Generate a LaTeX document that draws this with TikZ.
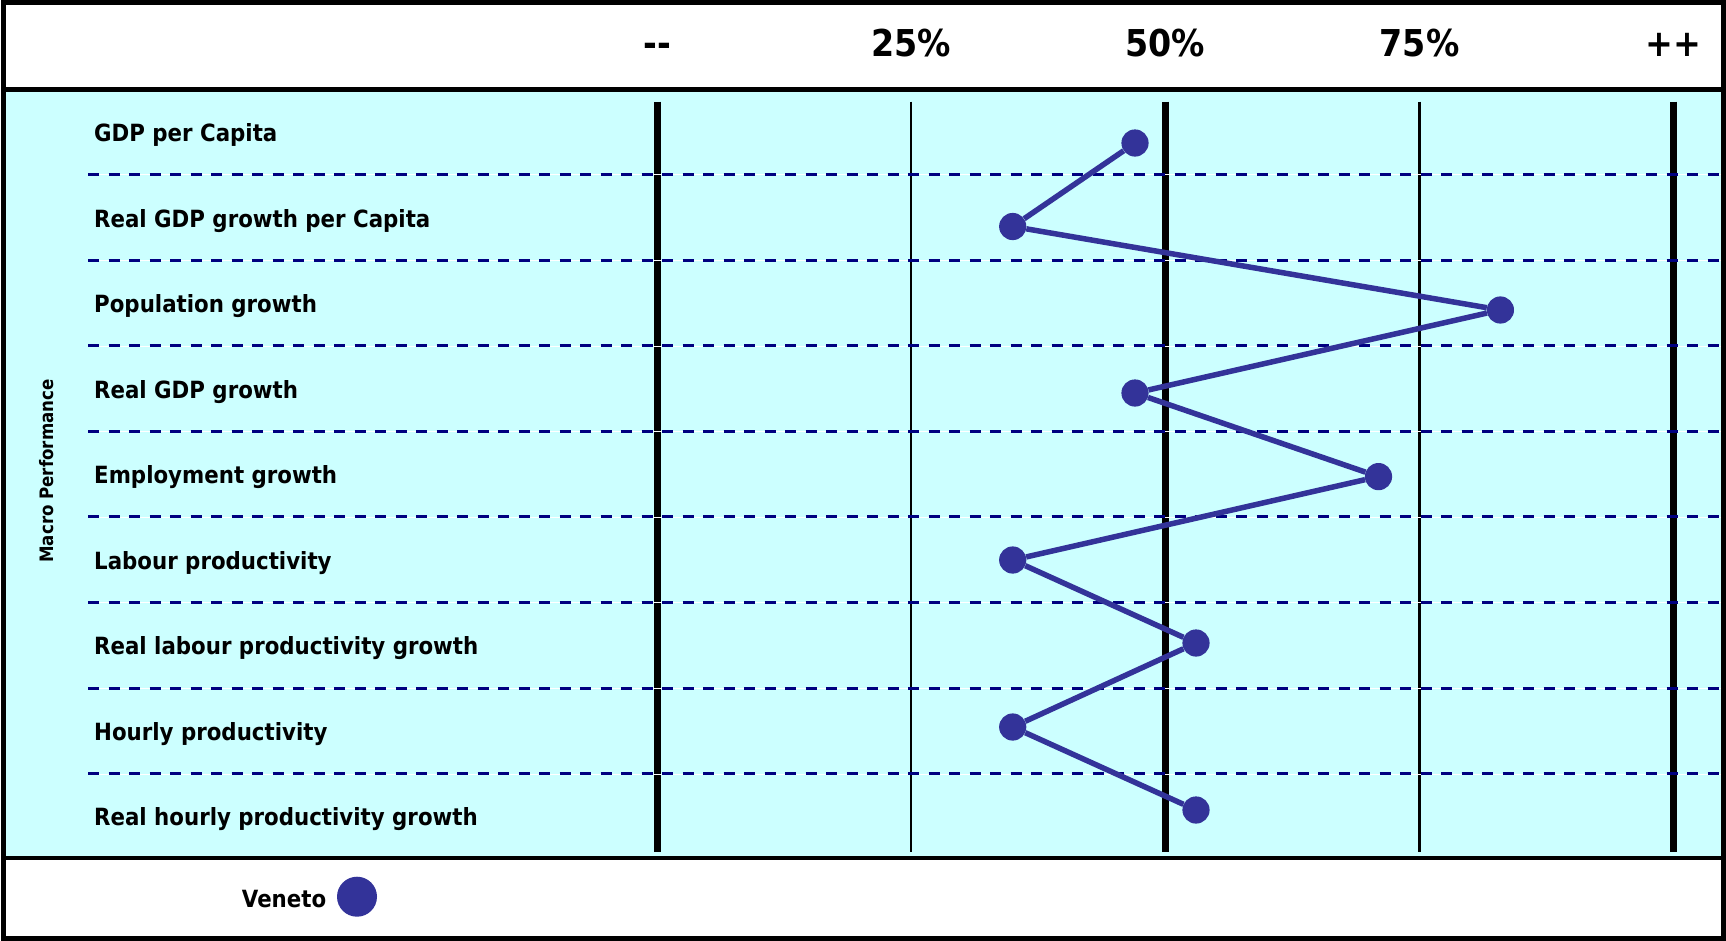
\documentclass[tikz,border=0pt]{standalone}
\usepackage{fontspec}
\setmainfont{DejaVu Sans}[FakeStretch=0.9]
\definecolor{veneto}{RGB}{51,51,153}
\definecolor{fondo}{RGB}{204,255,255}
\definecolor{blunotte}{RGB}{0,0,128}

\begin{document}
\begin{tikzpicture}[x=1pt,y=-1pt,font=\bfseries\fontsize{23.7}{28}\selectfont,
    voce/.style={anchor=base west,inner sep=0pt},
    testa/.style={anchor=base,inner sep=0pt,font=\bfseries\fontsize{37}{42}\selectfont},
    punto/.style={circle,fill=veneto,inner sep=0pt,minimum size=27.2pt},
    riga/.style={draw=blunotte,line width=3pt,dash pattern=on 11pt off 9.5pt,
                 preaction={draw=white,solid}}]
    \useasboundingbox (0,0) rectangle (1726,940);
    \fill [fondo] (3,89.5) rectangle (1723.5,858); % zona azzurra
    % colonne
    \draw [line width=7pt] (657,101.7) -- (657,851.7); % colonna --
    \draw [line width=2.5pt] (911.2,101.7) -- (911.2,851.7); % colonna 25%
    \draw [line width=7pt] (1165.4,101.7) -- (1165.4,851.7); % colonna 50%
    \draw [line width=2.5pt] (1419.6,101.7) -- (1419.6,851.7); % colonna 75%
    \draw [line width=7pt] (1673.8,101.7) -- (1673.8,851.7); % colonna ++
    % righe tratteggiate
    \draw [riga] (88,174.5) -- (1722,174.5);
    \draw [riga] (88,260.1) -- (1722,260.1);
    \draw [riga] (88,345.7) -- (1722,345.7);
    \draw [riga] (88,431.3) -- (1722,431.3);
    \draw [riga] (88,516.9) -- (1722,516.9);
    \draw [riga] (88,602.5) -- (1722,602.5);
    \draw [riga] (88,688.1) -- (1722,688.1);
    \draw [riga] (88,773.7) -- (1722,773.7);
    \draw [line width=4.5pt] (3,89.5) -- (1723.5,89.5); % fine intestazione
    \draw [line width=4.5pt] (3,858) -- (1723.5,858); % inizio legenda
    \draw [line width=5pt] (3,2.5) rectangle (1723.5,938); % cornice
    % intestazione
    \node [testa] (meno) at (657,56.5) {-{}-};
    \node [testa] (q25) at (911.2,56.5) {25\%};
    \node [testa] (q50) at (1165.4,56.5) {50\%};
    \node [testa] (q75) at (1419.6,56.5) {75\%};
    \node [testa] (piu) at (1673.8,56.5) {++};
    \node [rotate=90,inner sep=0pt,font=\bfseries\fontsize{18.5}{22}\selectfont]
          (macro) at (47,471) {Macro Performance};
    % voci
    \node [voce] (gdp) at (94,141.6) {GDP per Capita};
    \node [voce] (gdpgc) at (94,227.1) {Real GDP growth per Capita};
    \node [voce] (pop) at (94,312.6) {Population growth};
    \node [voce] (gdpg) at (94,398.1) {Real GDP growth};
    \node [voce] (occ) at (94,483.6) {Employment growth};
    \node [voce] (prod) at (94,569.1) {Labour productivity};
    \node [voce] (prodg) at (94,654.6) {Real labour productivity growth};
    \node [voce] (ora) at (94,740.1) {Hourly productivity};
    \node [voce] (orag) at (94,825.6) {Real hourly productivity growth};
    % valori del Veneto
    \node [punto] (v1) at (1135,143) {};
    \node [punto] (v2) at (1012.7,226.5) {};
    \node [punto] (v3) at (1500.4,310) {};
    \node [punto] (v4) at (1135,393) {};
    \node [punto] (v5) at (1378.5,476.6) {};
    \node [punto] (v6) at (1012.7,560) {};
    \node [punto] (v7) at (1196,643) {};
    \node [punto] (v8) at (1012.7,727) {};
    \node [punto] (v9) at (1196,810) {};
    \draw [veneto,line width=5.5pt] (v1) -- (v2) -- (v3) -- (v4) -- (v5)
          -- (v6) -- (v7) -- (v8) -- (v9); % profilo
    % legenda
    \node [voce] (leg) at (241.7,907.7) {Veneto};
    \node [punto,minimum size=40pt] (legpunto) at (357,896.7) {};
\end{tikzpicture}
\end{document}
